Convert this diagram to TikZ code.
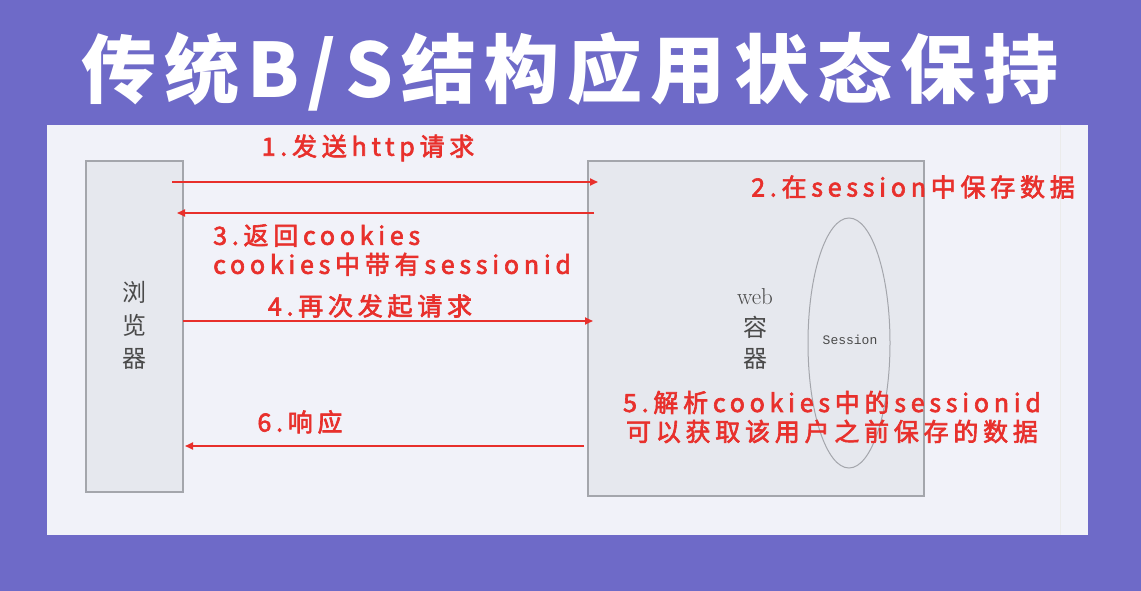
\documentclass[tikz,border=0pt]{standalone}
\usepackage{fontspec}
\usetikzlibrary{shapes.geometric,arrows.meta}
\newfontfamily\cjk{Noto Sans CJK SC}
\newfontfamily\cjkred[LetterSpace=19,FakeBold=2.5]{Noto Sans CJK SC}
\newfontfamily\cjktitle[LetterSpace=11]{Noto Sans CJK SC}
\setmonofont{Liberation Mono}
\definecolor{bgpurple}{HTML}{6E6AC8}
\definecolor{panel}{HTML}{F1F2F9}
\definecolor{boxfill}{HTML}{E6E8EE}
\definecolor{boxline}{HTML}{A4A6AC}
\definecolor{redtxt}{HTML}{E8302C}
\definecolor{graytxt}{HTML}{4A4A4A}
\tikzset{
  sysbox/.style={draw=boxline, line width=1.2pt, fill=boxfill, inner sep=0pt},
  redlbl/.style={text=redtxt, font=\cjkred\fontsize{25}{29}\selectfont, inner sep=0pt},
  msg/.style={draw=redtxt, line width=1.8pt, -{Triangle[length=8pt,width=7pt]}},
  graylbl/.style={text=graytxt, inner sep=0pt},
}
\begin{document}
\begin{tikzpicture}[x=1pt,y=-1pt]
\fill[bgpurple] (0,0) rectangle (1141,591);
\useasboundingbox (0,0) rectangle (1141,591);
% panel
\fill[panel] (47,125) rectangle (1088,535);
\draw[line width=0.6pt, draw=black!8] (1060,125) -- (1060,535);
% title
\node[text=white, font=\cjktitle\bfseries\fontsize{75}{80}\selectfont, inner sep=0pt] (title) at (570,72) {传统B/S结构应用状态保持};
% boxes
\node[sysbox, minimum width=97pt, minimum height=331pt] (browser) at (134.5,326.5) {};
\node[sysbox, minimum width=336pt, minimum height=335pt] (web) at (756,328.5) {};
\node[draw=boxline, line width=1pt, ellipse, minimum width=82pt, minimum height=250pt] (sess) at (849,343) {};
\node[graylbl, font=\ttfamily\fontsize{13}{13}\selectfont] (sesslbl) at (850,340) {Session};
\node[graylbl, font=\cjk\fontsize{24}{33}\selectfont, align=center] (blbl) at (134,325) {浏\\览\\器};
\node[graylbl, font=\rmfamily\fontsize{23}{23}\selectfont] (weblbl) at (755,297) {web};
\node[graylbl, font=\cjk\fontsize{24}{31}\selectfont, align=center] (weblbl2) at (755,343) {容\\器};
% arrow endpoints
\coordinate (a1s) at (172,182); \coordinate (a1e) at (598,182);
\coordinate (a3s) at (594,213); \coordinate (a3e) at (177,213);
\coordinate (a4s) at (183,321); \coordinate (a4e) at (593,321);
\coordinate (a6s) at (584,446); \coordinate (a6e) at (185,446);
\draw[msg] (a1s) -- (a1e);
\draw[msg] (a3s) -- (a3e);
\draw[msg] (a4s) -- (a4e);
\draw[msg] (a6s) -- (a6e);
% labels
\node[redlbl] (l1) at (368,148) {1.发送http请求};
\node[redlbl] (l2) at (913,187) {2.在session中保存数据};
\node[redlbl, anchor=west, align=left] (l3) at (213,250) {3.返回cookies\\cookies中带有sessionid};
\node[redlbl] (l4) at (370,306) {4.再次发起请求};
\node[redlbl, align=center] (l5) at (832,417) {5.解析cookies中的sessionid\\可以获取该用户之前保存的数据};
\node[redlbl] (l6) at (300,422) {6.响应};
\end{tikzpicture}
\end{document}
